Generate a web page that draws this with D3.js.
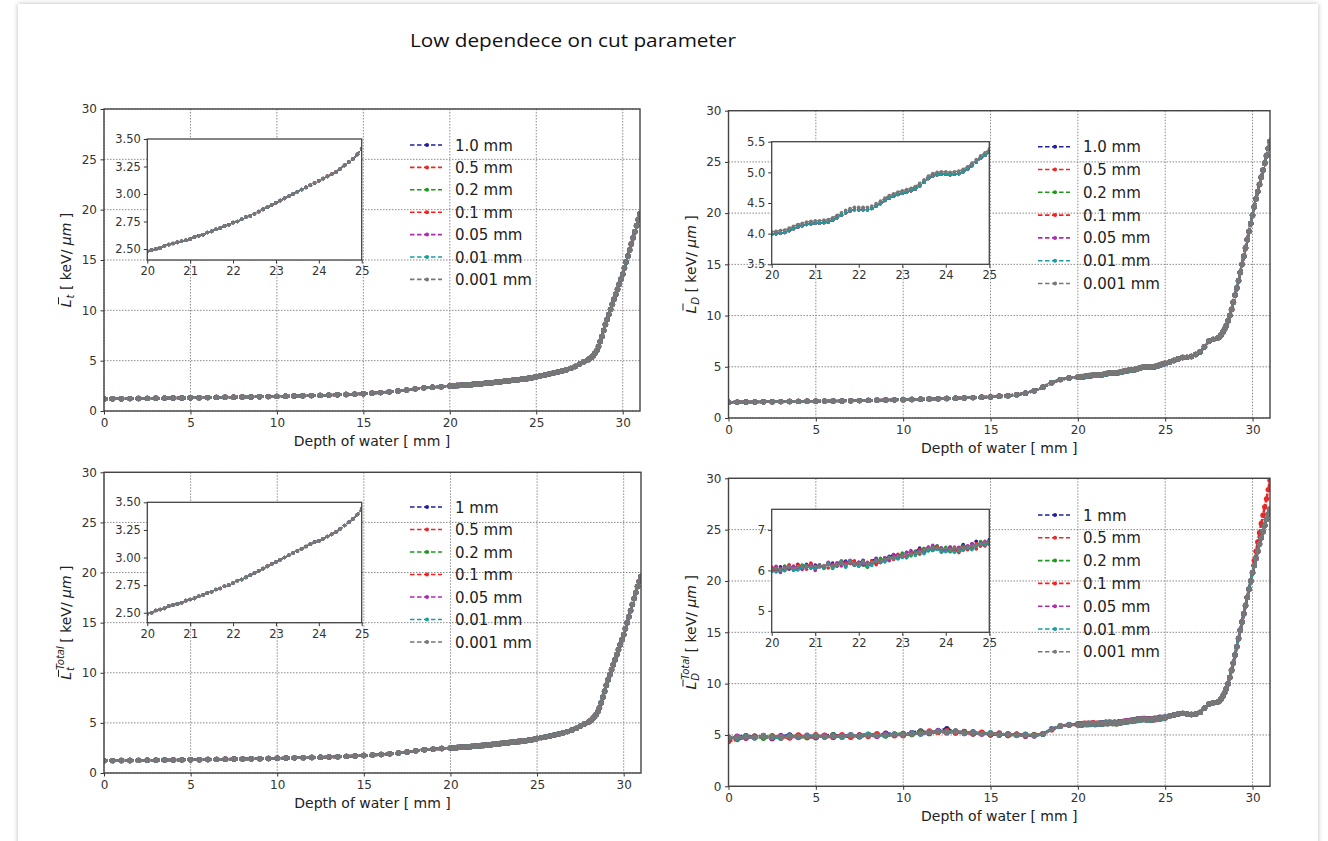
<!DOCTYPE html>
<html><head><meta charset="utf-8">
<script src="https://cdn.jsdelivr.net/npm/d3@7"></script>
<style>body{margin:0;background:#fff;} svg{display:block;} text{white-space:pre;}</style>
</head><body>
<svg id="c" width="1328" height="841"></svg>
<script>
// ---------------- DATA ----------------
const titleText = "Low dependece on cut parameter";
const xLabelText = "Depth of water [ mm ]";
const cutLabelsTop = ["1.0 mm","0.5 mm","0.2 mm","0.1 mm","0.05 mm","0.01 mm","0.001 mm"];
const cutLabelsBottom = ["1 mm","0.5 mm","0.2 mm","0.1 mm","0.05 mm","0.01 mm","0.001 mm"];
const seriesColors = ["#1f1f9f","#e52a2a","#1c9a1c","#ff1c1c","#b02ab0","#1a9e9e","#777777"];
const xTicks = [0,5,10,15,20,25,30];
const yTicks = [0,5,10,15,20,25,30];
const insetXTicks = [20,21,22,23,24,25];
const insetYTicksLt = [2.50,2.75,3.00,3.25,3.50];
const insetYTicksLd = [3.5,4.0,4.5,5.0,5.5];
const insetYTicksLdTotal = [5,6,7];

// depth of water [mm]
const depth = [
  0,0.5,1,1.5,2,2.5,3,3.5,4,4.5,5,5.5,6,6.5,7,7.5,8,8.5,9,9.5,
  10,10.5,11,11.5,12,12.5,13,13.5,14,14.5,15,15.5,16,16.5,17,17.5,18,18.5,19,19.5,
  20.0,20.1,20.2,20.3,20.4,20.5,20.6,20.7,20.8,20.9,21.0,21.1,21.2,21.3,21.4,21.5,21.6,21.7,21.8,21.9,
  22.0,22.1,22.2,22.3,22.4,22.5,22.6,22.7,22.8,22.9,23.0,23.1,23.2,23.3,23.4,23.5,23.6,23.7,23.8,23.9,
  24.0,24.1,24.2,24.3,24.4,24.5,24.6,24.7,24.8,24.9,25.0,
  25.25,25.5,25.75,26,26.25,26.5,26.75,27,27.25,27.5,27.75,28,
  28.1,28.2,28.3,28.4,28.5,28.6,28.7,28.8,28.9,29.0,29.1,29.2,29.3,29.4,29.5,29.6,29.7,29.8,29.9,30.0,
  30.1,30.2,30.3,30.4,30.5,30.6,30.7,30.8,30.9,31.0
];

// track-averaged LET (top left)
const lt = [
  1.20,1.21,1.22,1.23,1.24,1.25,1.26,1.28,1.29,1.30,1.31,1.32,1.33,1.35,1.36,1.37,1.39,1.40,1.42,1.43,
  1.45,1.47,1.49,1.51,1.53,1.55,1.58,1.61,1.64,1.68,1.72,1.77,1.83,1.90,1.98,2.08,2.20,2.30,2.36,2.42,
  2.48,2.49,2.50,2.51,2.53,2.54,2.55,2.56,2.57,2.58,2.59,2.61,2.62,2.63,2.65,2.66,2.68,2.69,2.71,2.72,
  2.74,2.75,2.77,2.79,2.80,2.82,2.84,2.86,2.88,2.90,2.92,2.94,2.96,2.98,3.00,3.02,3.04,3.06,3.08,3.10,
  3.12,3.14,3.16,3.18,3.20,3.23,3.26,3.29,3.32,3.36,3.41,
  3.50,3.58,3.67,3.77,3.87,3.98,4.10,4.23,4.42,4.66,4.90,5.10,
  5.22,5.35,5.52,5.75,6.00,6.40,6.90,7.40,8.00,8.60,9.10,9.60,10.1,10.6,11.1,11.6,12.1,12.6,13.1,13.6,
  14.2,14.8,15.4,16.0,16.6,17.2,17.8,18.4,19.0,19.6
];

// total track-averaged LET (bottom left)
const ltTotal = [
  1.22,1.23,1.24,1.25,1.26,1.27,1.28,1.29,1.30,1.31,1.32,1.33,1.35,1.36,1.37,1.39,1.40,1.42,1.43,1.45,
  1.47,1.49,1.51,1.53,1.55,1.57,1.60,1.63,1.66,1.70,1.74,1.79,1.85,1.92,2.00,2.10,2.22,2.32,2.38,2.44,
  2.49,2.50,2.52,2.53,2.54,2.56,2.57,2.58,2.59,2.61,2.62,2.63,2.65,2.66,2.68,2.69,2.71,2.72,2.74,2.75,
  2.77,2.79,2.80,2.82,2.84,2.86,2.88,2.90,2.92,2.94,2.96,2.98,3.00,3.02,3.04,3.06,3.08,3.10,3.12,3.14,
  3.15,3.17,3.19,3.21,3.23,3.26,3.29,3.32,3.35,3.39,3.44,
  3.53,3.61,3.70,3.80,3.90,4.01,4.13,4.27,4.45,4.68,4.92,5.12,
  5.25,5.40,5.58,5.82,6.10,6.50,7.00,7.55,8.15,8.75,9.30,9.80,10.3,10.8,11.3,11.8,12.3,12.8,13.3,13.8,
  14.4,15.0,15.6,16.2,16.8,17.4,18.0,18.6,19.1,19.6
];

// dose-averaged LET (top right)
const ld = [
  1.54,1.55,1.56,1.57,1.58,1.59,1.60,1.61,1.62,1.63,1.64,1.65,1.66,1.67,1.69,1.70,1.72,1.73,1.75,1.77,
  1.79,1.81,1.83,1.85,1.88,1.90,1.93,1.96,1.99,2.02,2.06,2.12,2.18,2.28,2.42,2.65,3.00,3.45,3.75,3.90,
  3.99,4.00,4.01,4.02,4.05,4.08,4.11,4.13,4.15,4.16,4.17,4.17,4.18,4.19,4.22,4.26,4.30,4.34,4.37,4.39,
  4.39,4.39,4.39,4.41,4.45,4.49,4.54,4.58,4.61,4.64,4.66,4.68,4.70,4.73,4.78,4.84,4.90,4.94,4.96,4.97,
  4.97,4.96,4.97,4.98,5.01,5.05,5.11,5.17,5.23,5.28,5.33,
  5.45,5.62,5.78,5.90,5.92,6.00,6.20,6.45,6.95,7.50,7.68,7.80,
  7.90,8.10,8.40,8.70,9.00,9.50,10.0,10.6,11.3,12.0,12.7,13.4,14.2,15.0,15.8,16.6,17.4,18.2,19.0,19.8,
  20.6,21.4,22.1,22.8,23.5,24.2,24.9,25.6,26.3,27.0
];
// 0.001 mm series, 20-25 mm (slightly above the others)
const ldFine2025 = [
  4.03,4.04,4.05,4.06,4.09,4.12,4.15,4.17,4.19,4.20,4.21,4.21,4.22,4.23,4.26,4.30,4.34,4.38,4.41,4.43,
  4.43,4.43,4.43,4.45,4.49,4.53,4.58,4.62,4.65,4.68,4.70,4.72,4.74,4.77,4.82,4.88,4.94,4.98,5.00,5.01,
  5.01,5.00,5.01,5.02,5.05,5.09,5.15,5.21,5.27,5.32,5.38
];

// total dose-averaged LET (bottom right), 0.001 mm series
const ldTotal = [
  4.72,4.78,4.80,4.79,4.82,4.80,4.83,4.82,4.85,4.84,4.86,4.85,4.88,4.90,4.92,4.93,4.95,4.97,5.00,5.02,
  5.05,5.10,5.18,5.25,5.30,5.32,5.28,5.22,5.18,5.15,5.12,5.08,5.05,5.02,4.98,4.97,5.10,5.55,5.88,5.98,
  6.03,6.05,6.02,6.06,6.08,6.05,6.09,6.10,6.07,6.11,6.10,6.08,6.12,6.14,6.11,6.15,6.17,6.14,6.20,6.18,
  6.17,6.19,6.16,6.20,6.22,6.25,6.27,6.30,6.32,6.35,6.37,6.39,6.41,6.43,6.46,6.50,6.54,6.56,6.55,6.53,
  6.54,6.52,6.55,6.53,6.56,6.58,6.60,6.63,6.66,6.68,6.70,
  6.85,6.95,7.05,7.10,7.05,7.00,7.05,7.20,7.60,8.00,8.15,8.20,
  8.30,8.50,8.80,9.10,9.50,10.0,10.6,11.3,12.0,12.8,13.6,14.4,15.2,16.0,16.8,17.6,18.4,19.2,20.0,20.8,
  21.5,22.2,22.9,23.6,24.2,24.8,25.4,26.0,26.5,27.0
];
// scatter of the other cut values around it, 0-25 mm, in 0.01 keV/um
const ldTotalDev1 = [-10,6,14,-4,9,-16,3,18,-7,2,-12,8,15,-5,-9,6,11,-3,16,4,-8,12,22,-6,9,30,-4,12,-9,5,-13,9,-6,5,-10,4,-3,4,-2,3,
  4,-3,7,2,-5,3,6,-2,8,-4,3,5,-6,2,7,-3,4,9,-2,-5,3,6,-3,4,8,-4,2,5,7,-5,3,6,-2,4,9,-6,3,-7,5,2,-4,6,-8,3,8,-3,5,9,2,-4,6];
const ldTotalDev05 = [-35,-22,-9,12,-6,14,-15,5,10,-8,16,-4,-12,9,3,-14,7,12,-5,-10,8,-6,15,-9,4,-12,10,-7,13,-3,7,-11,6,-4,9,-5,3,-4,2,-3,
  -3,-6,2,-5,4,-2,-7,3,-4,5,-6,2,-3,-8,4,-2,5,-4,3,6,-5,2,-7,-3,4,-6,-2,3,-5,2,-4,-7,3,-2,-6,4,-3,-5,2,-8,-4,-6,3,-9,-5,-7,-3,-10,-6,-8,-5];
const ldTotalDev02 = [-12,8,-5,10,-14,6,-8,12,-3,-10,7,-6,11,-13,5,-7,9,-4,-11,6,10,-5,8,-12,4,9,-6,11,-4,7,-8,5,-10,6,-3,8,-3,2,-4,2,
  -4,3,-6,5,-2,4,-5,2,6,-3,-2,5,-4,3,-6,2,7,-3,4,-5,2,-6,-8,3,-4,5,-3,-6,2,-4,6,-2,-5,3,-3,4,-6,2,5,-3,3,-5,-7,2,4,-4,3,-2,5,-3,2];
const ldTotalDev01 = [8,-14,10,-6,13,-9,4,-11,15,-5,-8,12,-3,9,-14,6,-10,13,-4,8,-12,6,-7,14,-5,10,-9,3,-6,12,-4,8,-11,5,-7,3,2,-3,3,-2,
  5,-4,3,-6,6,-3,4,-5,2,7,-4,3,-7,5,-2,-5,4,6,-3,2,-6,5,-4,3,-8,-3,4,-5,2,5,-3,-6,4,-2,5,-4,3,-6,2,-5,-3,4,-7,-4,2,-5,-6,3,-4,-6,-3];
const ldTotalDev005 = [-6,10,-13,5,8,-10,12,-4,-9,14,-5,7,-11,4,10,-8,3,-12,9,-6,5,11,-7,-4,13,-9,6,-3,10,-7,4,-9,7,-5,6,-8,-3,3,-2,4,
  -2,5,-7,3,-4,6,-3,-8,4,2,-10,3,-5,6,-3,4,-6,2,5,-4,3,-5,4,-3,6,-2,4,-4,7,2,-3,5,8,-2,4,-5,3,6,-3,2,-4,5,-2,4,-5,3,6,-3,2,4,-2];
const ldTotalDev001 = [4,-12,7,-9,11,-5,-13,8,-4,6,10,-7,3,-11,8,-6,12,-3,-8,7,-5,9,-10,4,7,-6,11,-8,5,-4,9,-6,3,-8,5,-4,-2,3,-3,2,
  -6,-9,-3,-7,2,-5,-8,-3,4,-6,-4,2,-7,3,-5,-2,4,-6,3,-4,-7,2,-5,-8,3,-4,-6,2,-3,-7,-5,-8,-3,-6,-2,-9,-4,-7,-3,-6,-8,-4,-10,-5,-7,-3,-9,-4,-2,-5,-3];
// 0.5 mm series at the end of range (30.1 - 31.0 mm)
const ldTotal05Tail = [22.0,22.9,23.8,24.7,25.6,26.4,27.2,28.0,28.9,29.8];

// ---------------- checks ----------------
[lt,ltTotal,ld,ldTotal].forEach((a,i)=>{ if(a.length!==depth.length) throw new Error("len "+i+" "+a.length+" vs "+depth.length); });
[ldTotalDev1,ldTotalDev05,ldTotalDev02,ldTotalDev01,ldTotalDev005,ldTotalDev001].forEach((a,i)=>{ if(a.length!==91) throw new Error("dev "+i+" "+a.length); });
if (ldFine2025.length!==51) throw new Error("fine "+ldFine2025.length);

// ---------------- build series ----------------
const iFine0 = depth.indexOf(20.0);
const ltSeries = seriesColors.map(()=>lt);
const ltTotalSeries = seriesColors.map(()=>ltTotal);
const ldSeries = seriesColors.map((c,k)=> k===6 ? ld.map((v,i)=> (i>=iFine0 && i<iFine0+51) ? ldFine2025[i-iFine0] : v) : ld);
const devs = [ldTotalDev1,ldTotalDev05,ldTotalDev02,ldTotalDev01,ldTotalDev005,ldTotalDev001];
const tail0 = depth.indexOf(30.1);
const ldTotalSeries = seriesColors.map((c,k)=>{
  if (k===6) return ldTotal;
  return ldTotal.map((v,i)=>{
    if (k===1 && i>=tail0) return ldTotal05Tail[i-tail0];
    return i<devs[k].length ? +(v + devs[k][i]/100).toFixed(3) : v;
  });
});

// ---------------- DRAW ----------------
const svg = d3.select("#c");
const FONT = "DejaVu Sans";
const NB = "\u00a0";
const defs = svg.append("defs");
const sh = defs.append("filter").attr("id","sh").attr("x","-2%").attr("y","-2%").attr("width","104%").attr("height","104%");
sh.append("feDropShadow").attr("dx",0).attr("dy",0).attr("stdDeviation",2.5).attr("flood-color","#000").attr("flood-opacity",0.28);
svg.append("rect").attr("x",0).attr("y",0).attr("width",1328).attr("height",841).attr("fill","#fff");
svg.append("rect").attr("x",18).attr("y",4).attr("width",1300).attr("height",860).attr("fill","#fff").attr("filter","url(#sh)");

svg.append("text").attr("x",410).attr("y",47).attr("font-family","Open Sans").attr("font-size",18.5)
  .attr("textLength",326).attr("lengthAdjust","spacingAndGlyphs").attr("fill","#111").text(titleText);

let clipN = 0;
function drawSeries(g, x, y, xs, vals, color, st, filt) {
  const pts = xs.map((d,i)=>[d, vals[i]]).filter(p=>filt(p[0]));
  const line = d3.line().x(p=>x(p[0])).y(p=>y(p[1]));
  g.append("path").attr("d", line(pts)).attr("fill","none").attr("stroke",color)
    .attr("stroke-width",st.w).attr("stroke-dasharray",st.dash);
  g.append("g").selectAll("circle").data(pts).join("circle")
    .attr("cx",p=>x(p[0])).attr("cy",p=>y(p[1])).attr("r",st.r).attr("fill",color);
}

function styleAxis(sel, size) {
  sel.select(".domain").remove();
  sel.selectAll(".tick line").attr("stroke","#333").attr("stroke-width",1);
  sel.selectAll(".tick text").attr("font-family",FONT).attr("font-size",size).attr("fill","#333");
}

function yLabel(cx, cy, sub, sup) {
  const g = svg.append("g").attr("transform",`translate(${cx},${cy}) rotate(-90)`);
  const base = 5, fs = 14, ss = 10;
  const meas = (txt, size, italic) => {
    const t = g.append("text").attr("font-family",FONT).attr("font-size",size).attr("font-style",italic?"italic":"normal").text(txt);
    const w = t.node().getComputedTextLength(); t.remove(); return w;
  };
  const wL = meas("L", fs, true), wSub = meas(sub, ss, true), wSup = sup ? meas(sup, ss, true) : 0;
  const wMid = Math.max(wSub, wSup);
  const t1 = NB+"["+NB+"keV/"+NB, t2 = "\u03bcm", t3 = NB+"]";
  const w1 = meas(t1, fs, false), w2 = meas(t2, fs, true), w3 = meas(t3, fs, false);
  const total = wL + 1 + wMid + w1 + w2 + w3;
  let x0 = -total/2;
  const add = (txt, x, dy, size, italic) => g.append("text").attr("x",x).attr("y",base+dy).attr("font-family",FONT)
      .attr("font-size",size).attr("font-style",italic?"italic":"normal").attr("fill","#222").text(txt);
  add("L", x0, 0, fs, true);
  g.append("line").attr("x1",x0+3).attr("x2",x0+10).attr("y1",base-12.5).attr("y2",base-12.5).attr("stroke","#222").attr("stroke-width",1);
  add(sub, x0+wL+1, 3, ss, true);
  if (sup) add(sup, x0+wL+2, -7, ss, true);
  let xx = x0 + wL + 1 + wMid;
  add(t1, xx, 0, fs, false); xx += w1;
  add(t2, xx, 0, fs, true); xx += w2;
  add(t3, xx, 0, fs, false);
}

function panel(p) {
  const x = d3.scaleLinear().domain([0,31]).range([p.l, p.r]);
  const y = d3.scaleLinear().domain([0,30]).range([p.b, p.t]);
  const g = svg.append("g");
  // grid
  g.append("g").selectAll("line").data(xTicks).join("line")
    .attr("x1",d=>x(d)).attr("x2",d=>x(d)).attr("y1",p.t).attr("y2",p.b)
    .attr("stroke","#8a8a8a").attr("stroke-width",1).attr("stroke-dasharray","1.5,1.5");
  g.append("g").selectAll("line").data(yTicks).join("line")
    .attr("y1",d=>y(d)).attr("y2",d=>y(d)).attr("x1",p.l).attr("x2",p.r)
    .attr("stroke","#8a8a8a").attr("stroke-width",1).attr("stroke-dasharray","1.5,1.5");
  // data
  const cid = "clip"+(clipN++);
  defs.append("clipPath").attr("id",cid).append("rect").attr("x",p.l).attr("y",p.t-1).attr("width",p.r-p.l).attr("height",p.b-p.t+1);
  const dg = g.append("g").attr("clip-path",`url(#${cid})`);
  p.series.forEach((vals,k)=> drawSeries(dg, x, y, depth, vals, seriesColors[k], {w:2.6, dash:"4,1.2", r:2.7}, ()=>true));
  // axes
  const ax = g.append("g").attr("transform",`translate(0,${p.b})`)
    .call(d3.axisBottom(x).tickValues(xTicks).tickSize(3.5).tickPadding(3.5).tickFormat(d3.format("d")));
  styleAxis(ax, 12);
  const ay = g.append("g").attr("transform",`translate(${p.l},0)`)
    .call(d3.axisLeft(y).tickValues(yTicks).tickSize(3.5).tickPadding(3.5).tickFormat(d3.format("d")));
  styleAxis(ay, 12);
  g.append("rect").attr("x",p.l).attr("y",p.t).attr("width",p.r-p.l).attr("height",p.b-p.t)
    .attr("fill","none").attr("stroke","#444").attr("stroke-width",1.4);
  g.append("text").attr("x",(p.l+p.r)/2).attr("y",p.b+35).attr("text-anchor","middle")
    .attr("font-family",FONT).attr("font-size",14).attr("fill","#222").text(xLabelText);
  yLabel(p.l-38, (p.t+p.b)/2, p.sub, p.sup);

  // inset
  const q = p.inset;
  const xi = d3.scaleLinear().domain([20,25]).range([q.l, q.r]);
  const yi = d3.scaleLinear().domain([q.ymin,q.ymax]).range([q.b, q.t]);
  const gi = svg.append("g");
  gi.append("rect").attr("x",q.l).attr("y",q.t).attr("width",q.r-q.l).attr("height",q.b-q.t).attr("fill","#fff");
  const cid2 = "clip"+(clipN++);
  defs.append("clipPath").attr("id",cid2).append("rect").attr("x",q.l).attr("y",q.t).attr("width",q.r-q.l).attr("height",q.b-q.t);
  const dgi = gi.append("g").attr("clip-path",`url(#${cid2})`);
  p.series.forEach((vals,k)=> drawSeries(dgi, xi, yi, depth, vals, seriesColors[k], {w:1.4, dash:"3,1.5", r:1.8}, d=>d>=19.9 && d<=25.1));
  const axi = gi.append("g").attr("transform",`translate(0,${q.b})`)
    .call(d3.axisBottom(xi).tickValues(insetXTicks).tickSize(3.5).tickPadding(3.5).tickFormat(d3.format("d")));
  styleAxis(axi, 11.5);
  const ayi = gi.append("g").attr("transform",`translate(${q.l},0)`)
    .call(d3.axisLeft(yi).tickValues(q.yticks).tickSize(3.5).tickPadding(3).tickFormat(d3.format(q.fmt)));
  styleAxis(ayi, 11.5);
  gi.append("rect").attr("x",q.l).attr("y",q.t).attr("width",q.r-q.l).attr("height",q.b-q.t)
    .attr("fill","none").attr("stroke","#444").attr("stroke-width",1.3);

  // legend
  const L = p.legend;
  const lg = svg.append("g");
  p.labels.forEach((lab,k)=>{
    const yy = L.y0 + k*L.step;
    lg.append("line").attr("x1",L.hx).attr("x2",L.hx+32).attr("y1",yy).attr("y2",yy)
      .attr("stroke",seriesColors[k]).attr("stroke-width",1.6).attr("stroke-dasharray","4.5,2.5");
    lg.append("circle").attr("cx",L.hx+17).attr("cy",yy).attr("r",2).attr("fill",seriesColors[k]);
    lg.append("text").attr("x",L.tx).attr("y",yy+5.5).attr("font-family",FONT).attr("font-size",15)
      .attr("fill","#222").text(lab);
  });
}

panel({l:104, r:640, t:109, b:411, series:ltSeries, labels:cutLabelsTop, sub:"t", sup:null,
  inset:{l:147.3, r:361.7, t:139, b:260, ymin:2.40, ymax:3.50, yticks:insetYTicksLt, fmt:".2f"},
  legend:{hx:410, tx:455, y0:145, step:22.4}});
panel({l:728.5, r:1270, t:110.7, b:418, series:ldSeries, labels:cutLabelsTop, sub:"D", sup:null,
  inset:{l:771.7, r:989.3, t:141.7, b:264.3, ymin:3.5, ymax:5.5, yticks:insetYTicksLd, fmt:".1f"},
  legend:{hx:1038, tx:1083, y0:146.7, step:22.8}});
panel({l:104, r:641, t:472.3, b:773, series:ltTotalSeries, labels:cutLabelsBottom, sub:"t", sup:"Total",
  inset:{l:147.3, r:361.7, t:502.3, b:622.7, ymin:2.41, ymax:3.50, yticks:insetYTicksLt, fmt:".2f"},
  legend:{hx:410, tx:455, y0:507, step:22.5}});
panel({l:728.5, r:1270, t:478.3, b:786.3, series:ldTotalSeries, labels:cutLabelsBottom, sub:"D", sup:"Total",
  inset:{l:771.7, r:989.3, t:509.3, b:632.3, ymin:4.47, ymax:7.51, yticks:insetYTicksLdTotal, fmt:"d"},
  legend:{hx:1038, tx:1083, y0:515, step:22.8}});
</script>
</body></html>
